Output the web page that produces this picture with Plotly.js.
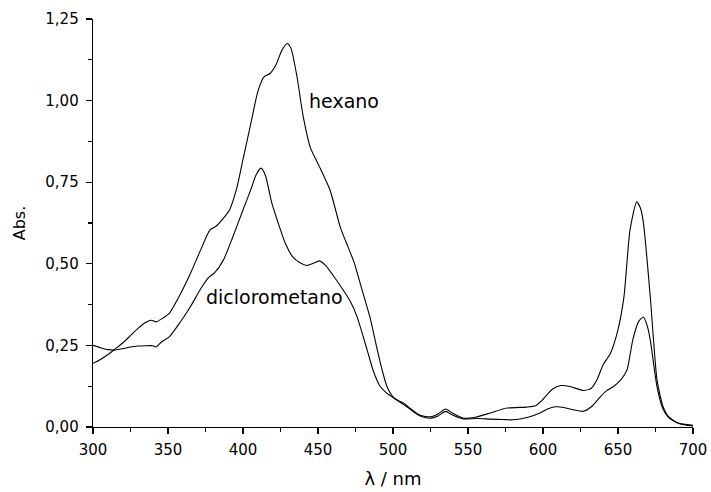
<!DOCTYPE html>
<html>
<head>
<meta charset="utf-8">
<script src="https://cdn.plot.ly/plotly-3.0.1.min.js"></script>
<style>
html,body{margin:0;padding:0;background:#fff;}
#chart{width:711px;height:492px;}
</style>
</head>
<body>
<div id="chart"></div>
<script>
// wavelengths (nm) and absorbance for hexano
const hexanoX = [300,305,310,315,320,325,330,335,339,342,346,351,358,365,372,378,382,387,391,396,400,405,410,414,418,422,426,429.5,432,436,440,445,451,458,465,470,474,480,485,489,493,496,500,503,507,512,518,525,530,535,540,547,555,565,576,589,595,600,606,612,618,627,632,636,640,645,650,654,658,662.5,665,667,671.5,676,680,684,690,700];
const hexanoY = [0.195,0.207,0.222,0.240,0.258,0.280,0.302,0.320,0.327,0.322,0.332,0.349,0.405,0.471,0.545,0.604,0.615,0.640,0.665,0.735,0.820,0.925,1.030,1.073,1.083,1.110,1.155,1.175,1.160,1.073,0.955,0.855,0.797,0.726,0.610,0.552,0.505,0.410,0.330,0.247,0.170,0.124,0.092,0.082,0.074,0.055,0.036,0.031,0.040,0.055,0.042,0.027,0.030,0.043,0.058,0.061,0.065,0.085,0.115,0.127,0.124,0.112,0.118,0.145,0.190,0.226,0.298,0.400,0.604,0.690,0.670,0.624,0.400,0.145,0.063,0.030,0.012,0.005];

// wavelengths (nm) and absorbance for diclorometano
const dicloroX = [300,305,310,315,320,325,330,335,340,342,346,351,358,365,372,377,381,387,393,400,405,409,412,415,419,425,428,433,438,442.7,447,451,455,460,466,471.5,476,482.7,487,491.5,496,500.4,505,509,514,519,525,530,535,540,547,556,565,573,580,590,598,603,608,614,620,627,633,638.5,642,647,652,656,660,664,667,669.5,671.5,676,680,684,691,700];
const dicloroY = [0.250,0.243,0.237,0.236,0.240,0.245,0.248,0.249,0.249,0.245,0.262,0.277,0.320,0.369,0.425,0.458,0.472,0.512,0.580,0.665,0.725,0.775,0.793,0.770,0.690,0.604,0.565,0.522,0.503,0.495,0.502,0.509,0.495,0.465,0.425,0.385,0.338,0.237,0.170,0.124,0.103,0.089,0.075,0.063,0.045,0.032,0.027,0.034,0.048,0.036,0.025,0.026,0.024,0.023,0.022,0.030,0.043,0.055,0.062,0.060,0.053,0.048,0.065,0.094,0.110,0.124,0.145,0.175,0.270,0.325,0.337,0.310,0.267,0.124,0.055,0.028,0.010,0.003];

const seriesNames = ['hexano','diclorometano'];
const labelPos = [[467.5, 0.998],[420.9, 0.399]];

const lineStyle = {color:'#000', width:1.1, shape:'spline', smoothing:0.6};
const traces = [
  {x:hexanoX, y:hexanoY, name:seriesNames[0], mode:'lines', line:lineStyle, hoverinfo:'skip'},
  {x:dicloroX, y:dicloroY, name:seriesNames[1], mode:'lines', line:lineStyle, hoverinfo:'skip'}
];

const fontFam = '"DejaVu Sans", sans-serif';
const layout = {
  width:711, height:492,
  margin:{l:93, r:18, t:19, b:65, pad:0},
  paper_bgcolor:'#fff', plot_bgcolor:'#fff',
  showlegend:false,
  separators:',.',
  font:{family:fontFam, color:'#000', size:15},
  xaxis:{
    range:[300,700], dtick:50, tick0:300,
    showgrid:false, zeroline:false,
    showline:true, linecolor:'#000', linewidth:1.3,
    ticks:'outside', ticklen:6, tickwidth:1.3, tickcolor:'#000',
    ticklabelstandoff:3,
    minor:{dtick:25, ticks:'outside', ticklen:4, tickwidth:1.3, tickcolor:'#000', showgrid:false},
    tickfont:{size:15, family:fontFam},
    title:{text:'λ / nm', font:{size:18, family:fontFam}, standoff:14}
  },
  yaxis:{
    range:[0,1.25], dtick:0.25, tick0:0, tickformat:'.2f',
    showgrid:false, zeroline:false,
    showline:true, linecolor:'#000', linewidth:1.3,
    ticks:'outside', ticklen:6, tickwidth:1.3, tickcolor:'#000',
    ticklabelstandoff:4,
    minor:{dtick:0.125, ticks:'outside', ticklen:4, tickwidth:1.3, tickcolor:'#000', showgrid:false},
    tickfont:{size:15, family:fontFam},
    title:{text:'Abs.', font:{size:16, family:fontFam}, standoff:15}
  },
  annotations: seriesNames.map((n,i)=>({
    x:labelPos[i][0], y:labelPos[i][1], xref:'x', yref:'y',
    text:n, showarrow:false, font:{size:19, family:fontFam, color:'#000'},
    xanchor:'center', yanchor:'middle'
  }))
};

Plotly.newPlot('chart', traces, layout, {staticPlot:true, displayModeBar:false});
</script>
</body>
</html>
